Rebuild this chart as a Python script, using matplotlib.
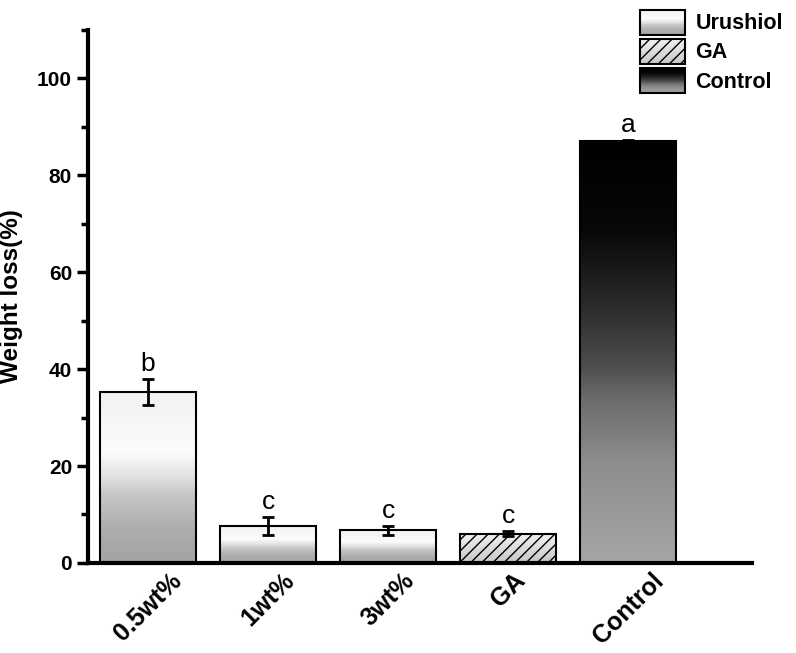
import numpy as np
import matplotlib
matplotlib.use("Agg")
import matplotlib.pyplot as plt
from matplotlib.patches import Rectangle
from matplotlib.image import BboxImage
from matplotlib.transforms import Bbox, TransformedBbox
from matplotlib.legend_handler import HandlerPatch
from matplotlib.colors import LinearSegmentedColormap
from matplotlib.ticker import MultipleLocator

plt.rcParams['font.family'] = ['Liberation Sans', 'DejaVu Sans']
plt.rcParams['hatch.linewidth'] = 1.0

categories = ["0.5wt%", "1wt%", "3wt%", "GA", "Control"]
values = [35.3, 7.6, 6.7, 6.0, 87.0]
errors = [2.7, 1.8, 1.0, 0.5, 0.3]
letters = ["b", "c", "c", "c", "a"]
groups = ["Urushiol", "Urushiol", "Urushiol", "GA", "Control"]
legend_labels = ["Urushiol", "GA", "Control"]

cmaps = {
    "Urushiol": LinearSegmentedColormap.from_list(
        "u", [(0.0, (0.64,)*3), (0.2, (0.68,)*3), (0.4, (0.78,)*3), (0.5, (0.88,)*3),
              (0.65, (0.99,)*3), (0.8, (0.97,)*3), (1.0, (0.95,)*3)]),
    "GA": LinearSegmentedColormap.from_list(
        "g", [(0.0, (0.78,)*3), (1.0, (0.95,)*3)]),
    "Control": LinearSegmentedColormap.from_list(
        "c", [(0.0, (0.65,)*3), (0.07, (0.62,)*3), (0.23, (0.56,)*3), (0.39, (0.42,)*3),
              (0.47, (0.3,)*3), (0.63, (0.15,)*3), (0.79, (0.03,)*3), (1.0, (0.0,)*3)]),
}
grad = np.linspace(0, 1, 256).reshape(-1, 1)

fig = plt.figure(figsize=(7.96, 6.53), dpi=100)
ax = fig.add_axes([0.1106, 0.138, 0.834, 0.816])

x = np.arange(len(categories))
width = 0.8
bars = ax.bar(x, values, width, facecolor='none', edgecolor='black', linewidth=1.5, zorder=3)
for b, g in zip(bars, groups):
    if g == "GA":
        b.set_hatch('///')
    x0, y0 = b.get_x(), b.get_y()
    im = ax.imshow(grad, cmap=cmaps[g], vmin=0, vmax=1, origin='lower', aspect='auto',
                   extent=[x0, x0 + b.get_width(), y0, y0 + b.get_height()], zorder=2,
                   interpolation='bilinear')
    im.set_clip_path(b)

ax.errorbar(x, values, yerr=errors, fmt='none', ecolor='black', elinewidth=2,
            capsize=4, capthick=2, zorder=4)
for xi, v, e, l in zip(x, values, errors, letters):
    ax.text(xi, v + e + 0.6, l, ha='center', va='bottom', fontsize=19)

ax.set_xlim(-0.5, 5.03)
ax.set_ylim(0, 110)
ax.set_xticks(x)
ax.set_xticklabels(categories, rotation=45, ha='center', va='top',
                   fontsize=18, fontweight='bold')
ax.tick_params(axis='x', length=0, pad=4)
ax.yaxis.set_major_locator(MultipleLocator(20))
ax.yaxis.set_minor_locator(MultipleLocator(10))
ax.set_yticks([0, 20, 40, 60, 80, 100])
ax.tick_params(axis='y', which='major', length=8, width=2.5, labelsize=15, direction='out')
ax.tick_params(axis='y', which='minor', length=5, width=2.5, direction='out')
for lab in ax.get_yticklabels():
    lab.set_fontweight('bold')
ax.set_ylabel("Weight loss(%)", fontsize=17.5, fontweight='bold', labelpad=10)
for s in ['top', 'right']:
    ax.spines[s].set_visible(False)
for s in ['left', 'bottom']:
    ax.spines[s].set_linewidth(3)


class GradHandler(HandlerPatch):
    def __init__(self, cmap, hatch=None):
        super().__init__()
        self.cmap = cmap
        self.hatch = hatch

    def create_artists(self, legend, orig_handle, xdescent, ydescent, width, height, fontsize, trans):
        bb = TransformedBbox(Bbox.from_bounds(-xdescent, -ydescent, width, height), trans)
        img = BboxImage(bb, cmap=self.cmap, norm=matplotlib.colors.Normalize(0, 1),
                        origin='lower', interpolation='bilinear')
        img.set_data(grad)
        rect = Rectangle((-xdescent, -ydescent), width, height, facecolor='none',
                         edgecolor='black', linewidth=1.5, hatch=self.hatch, transform=trans)
        return [img, rect]


handles = [Rectangle((0, 0), 1, 1) for _ in legend_labels]
hmap = {handles[0]: GradHandler(cmaps["Urushiol"]),
        handles[1]: GradHandler(cmaps["GA"], hatch='///'),
        handles[2]: GradHandler(cmaps["Control"])}
leg = fig.legend(handles, legend_labels, handler_map=hmap, loc='upper right',
                 bbox_to_anchor=(1.0, 1.005), frameon=False,
                 prop={'weight': 'bold', 'size': 15.5}, handlelength=2.1, handleheight=1.4,
                 labelspacing=0.2, handletextpad=0.5, borderaxespad=0.2)

fig.savefig("out.png", dpi=100)
